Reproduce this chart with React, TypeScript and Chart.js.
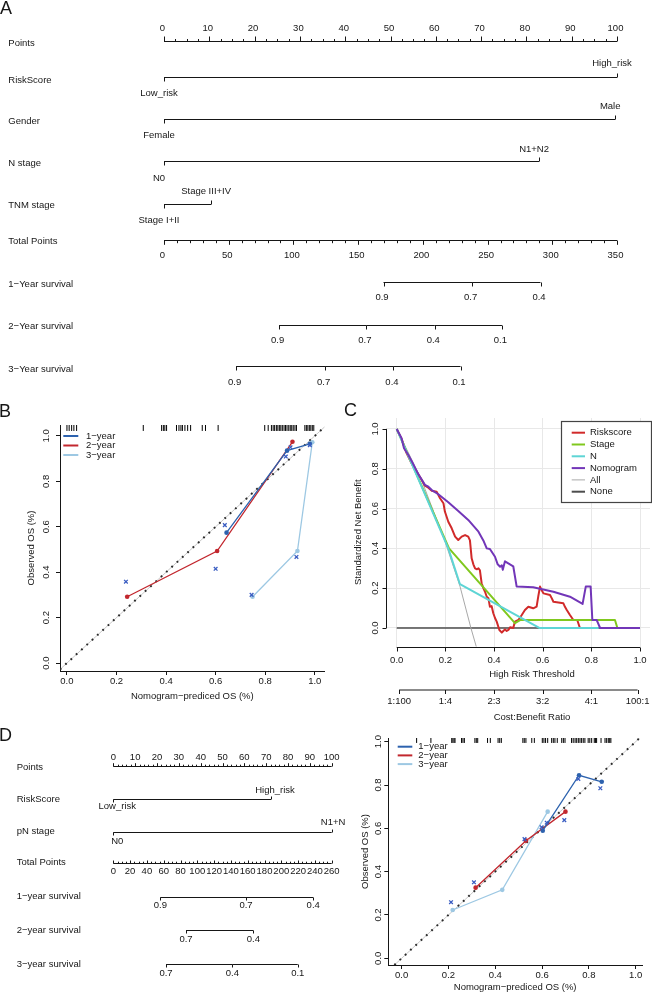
import React, { useEffect, useRef } from 'react';
import { Chart, registerables } from 'chart.js';

Chart.register(...registerables);

const FONT_FAMILY = '"Liberation Sans", Arial, Helvetica, sans-serif';
const FS = 9.5;
const INK = '#161616';
const M = '\u2212';

/* ================= Panel A : nomogram ================= */
const A_POINT_TICKS = [0, 10, 20, 30, 40, 50, 60, 70, 80, 90, 100];
const A_POINT_MINOR = 2.5;
const A_TOTAL_TICKS = [0, 50, 100, 150, 200, 250, 300, 350];
const A_TOTAL_MINOR = 10;
const A_VAR_NAMES = ['RiskScore', 'Gender', 'N stage', 'TNM stage'];
const A_VAR_LOW = ['Low_risk', 'Female', 'N0', 'Stage I+II'];
const A_VAR_HIGH = ['High_risk', 'Male', 'N1+N2', 'Stage III+IV'];
const A_VAR_HIGH_POINTS = [100, 99.6, 82.8, 10.4];
const A_SURV_NAMES = [`1${M}Year survival`, `2${M}Year survival`, `3${M}Year survival`];
const A_SURV1_LABELS = ['0.9', '0.7', '0.4'];
const A_SURV1_TOTAL = [169.6, 238.1, 290.9];
const A_SURV2_LABELS = ['0.9', '0.7', '0.4', '0.1'];
const A_SURV2_TOTAL = [88.9, 156.4, 209.2, 261.1];
const A_SURV3_LABELS = ['0.9', '0.7', '0.4', '0.1'];
const A_SURV3_TOTAL = [55.7, 124.5, 177.3, 229.1];

/* ================= Panel B : calibration ================= */
const B_RUG = [0.0, 0.009, 0.019, 0.028, 0.039, 0.308, 0.382, 0.389, 0.395, 0.402, 0.442, 0.452, 0.46, 0.466,
  0.476, 0.487, 0.499, 0.546, 0.559, 0.61, 0.798, 0.812, 0.825, 0.832, 0.838, 0.845, 0.851, 0.857, 0.863,
  0.869, 0.876, 0.882, 0.888, 0.895, 0.901, 0.907, 0.913, 0.92, 0.926, 0.96, 0.966, 0.972, 0.978, 0.984,
  0.99, 0.996];
const B_1Y_PRED = [0.644, 0.888, 0.98];
const B_1Y_OBS = [0.574, 0.935, 0.965];
const B_2Y_PRED = [0.243, 0.606, 0.91];
const B_2Y_OBS = [0.292, 0.493, 0.974];
const B_3Y_PRED = [0.749, 0.93, 0.99];
const B_3Y_OBS = [0.292, 0.493, 0.972];
const B_CORR_PRED = [0.238, 0.6, 0.637, 0.883, 0.902, 0.98, 0.745, 0.926];
const B_CORR_OBS = [0.358, 0.415, 0.607, 0.909, 0.95, 0.959, 0.3, 0.467];
const CAL_TICKS = [0, 0.2, 0.4, 0.6, 0.8, 1.0];
const CAL_LEGEND = [`1${M}year`, `2${M}year`, `3${M}year`];

/* ================= Panel C : decision curves ================= */
const C_RISK_T = [0, 0.02, 0.04, 0.06, 0.08, 0.1, 0.116, 0.13, 0.144, 0.164, 0.178, 0.192, 0.198, 0.212, 0.226, 0.24,
  0.253, 0.267, 0.281, 0.294, 0.301, 0.308, 0.315, 0.322, 0.33, 0.336, 0.342, 0.349, 0.356, 0.363, 0.37, 0.377,
  0.383, 0.39, 0.397, 0.404, 0.411, 0.422, 0.432, 0.438, 0.445, 0.452, 0.459, 0.466, 0.479, 0.486, 0.5, 0.514,
  0.527, 0.541, 0.561, 0.575, 0.582, 0.589, 0.596, 0.603, 0.63, 0.637, 0.644, 0.685, 0.692, 0.699, 0.712, 0.726,
  0.742, 0.753];
const C_RISK_NB = [1.0, 0.95, 0.88, 0.83, 0.79, 0.75, 0.715, 0.705, 0.69, 0.685, 0.652, 0.627, 0.585, 0.534, 0.501,
  0.459, 0.442, 0.459, 0.467, 0.459, 0.44, 0.35, 0.32, 0.3, 0.295, 0.3, 0.29, 0.225, 0.2, 0.182, 0.157, 0.149,
  0.107, 0.11, 0.074, 0.05, 0.032, -0.01, -0.023, -0.015, -0.007, -0.015, -0.01, 0.004, 0.0, 0.032, 0.04, 0.065,
  0.09, 0.107, 0.099, 0.107, 0.16, 0.208, 0.19, 0.174, 0.166, 0.15, 0.132, 0.124, 0.105, 0.09, 0.065, 0.04,
  0.04, 0.0];
const C_STAGE_T = [0, 0.215, 0.486, 0.507, 0.897, 0.907];
const C_STAGE_NB = [1.0, 0.4, 0.024, 0.04, 0.04, 0.0];
const C_N_T = [0, 0.212, 0.26, 0.586, 0.83];
const C_N_NB = [1.0, 0.4, 0.22, 0.0, 0.0];
const C_NOMO_T = [0, 0.02, 0.03, 0.048, 0.064, 0.089, 0.116, 0.13, 0.144, 0.171, 0.212, 0.253, 0.294, 0.336, 0.356,
  0.37, 0.383, 0.404, 0.415, 0.425, 0.432, 0.436, 0.445, 0.479, 0.493, 0.561, 0.644, 0.712, 0.764, 0.777, 0.797,
  0.804, 0.822, 0.836, 1.0];
const C_NOMO_NB = [1.0, 0.953, 0.903, 0.869, 0.833, 0.772, 0.719, 0.71, 0.693, 0.672, 0.632, 0.588, 0.543, 0.484,
  0.44, 0.4, 0.397, 0.358, 0.32, 0.308, 0.315, 0.292, 0.335, 0.31, 0.208, 0.205, 0.182, 0.157, 0.121, 0.208,
  0.208, 0.04, 0.04, 0.0, 0.0];
const C_ALL_T = [0, 0.1, 0.2, 0.26, 0.305, 0.345];
const C_ALL_NB = [1.0, 0.75, 0.43, 0.21, 0.0, -0.17];
const C_NONE_T = [0, 1];
const C_NONE_NB = [0, 0];
const C_AXIS_TICKS = [0, 0.2, 0.4, 0.6, 0.8, 1.0];
const C_CB_TICKS = [0.01, 0.2, 0.4, 0.6, 0.8, 0.99];
const C_CB_LABELS = ['1:100', '1:4', '2:3', '3:2', '4:1', '100:1'];
const C_LEGEND = ['Riskscore', 'Stage', 'N', 'Nomogram', 'All', 'None'];

/* ================= Panel D : nomogram + calibration ================= */
const D_POINT_TICKS = [0, 10, 20, 30, 40, 50, 60, 70, 80, 90, 100];
const D_POINT_MINOR = 2;
const D_TOTAL_TICKS = [0, 20, 40, 60, 80, 100, 120, 140, 160, 180, 200, 220, 240, 260];
const D_TOTAL_MINOR = 5;
const D_VAR_NAMES = ['RiskScore', 'pN stage'];
const D_VAR_LOW = ['Low_risk', 'N0'];
const D_VAR_HIGH = ['High_risk', 'N1+N2'];
const D_VAR_HIGH_POINTS = [72.2, 100];
const D_SURV_NAMES = [`1${M}year survival`, `2${M}year survival`, `3${M}year survival`];
const D_SURV1_LABELS = ['0.9', '0.7', '0.4'];
const D_SURV1_TOTAL = [56, 158, 238];
const D_SURV2_LABELS = ['0.7', '0.4'];
const D_SURV2_TOTAL = [86.6, 166.7];
const D_SURV3_LABELS = ['0.7', '0.4', '0.1'];
const D_SURV3_TOTAL = [62.8, 141.7, 219.6];

const D_RUG = [0.064, 0.125, 0.214, 0.219, 0.224, 0.228, 0.256, 0.262, 0.268, 0.313, 0.319, 0.325, 0.367, 0.379,
  0.412, 0.419, 0.426, 0.518, 0.524, 0.531, 0.556, 0.567, 0.601, 0.608, 0.615, 0.624, 0.641, 0.648, 0.655,
  0.665, 0.684, 0.691, 0.698, 0.726, 0.733, 0.741, 0.748, 0.755, 0.762, 0.769, 0.776, 0.783, 0.797, 0.804,
  0.812, 0.823, 0.828, 0.833, 0.852, 0.869, 0.876, 0.883, 0.889, 0.894];
const D_1Y_PRED = [0.603, 0.758, 0.855];
const D_1Y_OBS = [0.589, 0.845, 0.815];
const D_2Y_PRED = [0.316, 0.531, 0.7];
const D_2Y_OBS = [0.326, 0.543, 0.677];
const D_3Y_PRED = [0.218, 0.43, 0.624];
const D_3Y_OBS = [0.223, 0.316, 0.677];
const D_CORR_PRED = [0.755, 0.849, 0.598, 0.62, 0.695, 0.309, 0.211, 0.525];
const D_CORR_OBS = [0.828, 0.785, 0.605, 0.626, 0.638, 0.351, 0.259, 0.55];

/* ================= styles ================= */
const BLUE1 = '#2D62AE';
const RED2 = '#C2272E';
const LBLUE3 = '#9DC8E3';
const CROSS_BLUE = '#3A5DC2';
const C_COLORS: Record<string, string> = {
  Riskscore: '#D12A2A', Stage: '#80C81E', N: '#5ED5D5', Nomogram: '#7236B8', All: '#A8A8A8', None: '#4D4D4D',
};
const C_WIDTHS: Record<string, number> = { Riskscore: 2, Stage: 2, N: 2, Nomogram: 2, All: 1, None: 1.5 };

type Pt = { x: number; y: number };
const pts = (xs: number[], ys: number[]): Pt[] => xs.map((x, i) => ({ x, y: ys[i] }));
const font = (s = FS) => `${s}px ${FONT_FAMILY}`;

type Box = { left: number; top: number; width: number; height: number };

/* ---------- nomogram ---------- */
type NomoData = {
  pointTicks: number[]; pointMinor: number; totalTicks: number[]; totalMinor: number;
  varNames: string[]; varLow: string[]; varHigh: string[]; varHighPts: number[];
  survNames: string[]; survLabels: string[][]; survTotals: number[][];
};
type NomoLayout = {
  box: Box; x0: number; x1: number; labelX: number;
  pointsAxisY: number; pointsLabelY: number; pointsRowY: number; pointsDir: number; pMajor: number; pMinor: number;
  totalAxisY: number; totalLabelY: number; totalRowY: number; totalDir: number; tMajor: number; tMinor: number;
  varLineY: number[]; varRowY: number[]; varLowY: number[]; varHighY: number[];
  survLineY: number[]; survLabelY: number[]; survRowY: number[];
  endTick: number; catShift: number; numShift: number;
};

function nomogramConfig(d: NomoData, L: NomoLayout) {
  const lineDs = (data: Pt[], axis: string) => ({
    data, xAxisID: axis, yAxisID: 'y', showLine: true, borderColor: INK, borderWidth: 1,
    pointRadius: 0, clip: false,
  });
  const pMax = d.pointTicks[d.pointTicks.length - 1];
  const tMax = d.totalTicks[d.totalTicks.length - 1];
  const datasets: any[] = [];
  datasets.push(lineDs([{ x: d.pointTicks[0], y: L.pointsAxisY }, { x: pMax, y: L.pointsAxisY }], 'x'));
  d.varHighPts.forEach((hp, i) => datasets.push(lineDs([{ x: 0, y: L.varLineY[i] }, { x: hp, y: L.varLineY[i] }], 'x')));
  datasets.push(lineDs([{ x: d.totalTicks[0], y: L.totalAxisY }, { x: tMax, y: L.totalAxisY }], 'xt'));
  d.survTotals.forEach((arr, i) => datasets.push(lineDs(arr.map((v) => ({ x: v, y: L.survLineY[i] })), 'xt')));

  const plugin = {
    id: 'nomogramAxes',
    afterDatasetsDraw(chart: any) {
      const ctx: CanvasRenderingContext2D = chart.ctx;
      const sx = chart.scales.x, st = chart.scales.xt, sy = chart.scales.y;
      const X = (v: number) => sx.getPixelForValue(v);
      const XT = (v: number) => st.getPixelForValue(v);
      const Y = (v: number) => sy.getPixelForValue(v);
      const lx = L.labelX - L.box.left;
      ctx.save();
      ctx.font = font();
      ctx.fillStyle = INK;
      ctx.strokeStyle = INK;
      ctx.lineWidth = 1;
      ctx.textBaseline = 'middle';
      const text = (s: string, x: number, y: number, align: CanvasTextAlign = 'center') => {
        ctx.textAlign = align;
        ctx.fillText(s, x, y);
      };
      const tick = (x: number, y: number, len: number) => {
        const xx = Math.round(x) + 0.5;
        ctx.beginPath();
        ctx.moveTo(xx, y);
        ctx.lineTo(xx, y + len);
        ctx.stroke();
      };
      const isMajor = (arr: number[], v: number) => arr.some((t) => Math.abs(t - v) < 1e-9);

      // Points
      text('Points', lx, Y(L.pointsRowY), 'left');
      for (let k = 0; k * d.pointMinor <= pMax + 1e-9; k++) {
        const v = k * d.pointMinor;
        if (!isMajor(d.pointTicks, v)) tick(X(v), Y(L.pointsAxisY), L.pointsDir * L.pMinor);
      }
      d.pointTicks.forEach((v) => {
        tick(X(v), Y(L.pointsAxisY), L.pointsDir * L.pMajor);
        text(String(v), X(v) + L.numShift, Y(L.pointsLabelY));
      });
      // variables
      d.varNames.forEach((name, i) => {
        const yl = Y(L.varLineY[i]);
        text(name, lx, Y(L.varRowY[i]), 'left');
        tick(X(0), yl, L.endTick);
        tick(X(d.varHighPts[i]), yl, -L.endTick);
        text(d.varLow[i], X(0) + L.catShift, Y(L.varLowY[i]));
        text(d.varHigh[i], X(d.varHighPts[i]) + L.catShift, Y(L.varHighY[i]));
      });
      // Total points
      text('Total Points', lx, Y(L.totalRowY), 'left');
      for (let k = 0; k * d.totalMinor <= tMax + 1e-9; k++) {
        const v = k * d.totalMinor;
        if (!isMajor(d.totalTicks, v)) tick(XT(v), Y(L.totalAxisY), L.totalDir * L.tMinor);
      }
      d.totalTicks.forEach((v) => {
        tick(XT(v), Y(L.totalAxisY), L.totalDir * L.tMajor);
        text(String(v), XT(v) + L.numShift, Y(L.totalLabelY));
      });
      // survival
      d.survNames.forEach((name, i) => {
        text(name, lx, Y(L.survRowY[i]), 'left');
        d.survTotals[i].forEach((v, j) => {
          tick(XT(v), Y(L.survLineY[i]), L.endTick);
          text(d.survLabels[i][j], XT(v) + L.numShift, Y(L.survLabelY[i]));
        });
      });
      ctx.restore();
    },
  };

  return {
    type: 'scatter',
    data: { datasets },
    options: {
      responsive: false,
      animation: false,
      events: [],
      layout: { padding: { left: L.x0 - L.box.left, right: L.box.left + L.box.width - L.x1, top: 0, bottom: 0 } },
      plugins: { legend: { display: false }, tooltip: { enabled: false } },
      scales: {
        x: { type: 'linear', display: false, min: 0, max: pMax },
        xt: { type: 'linear', axis: 'x', display: false, min: 0, max: tMax },
        y: { type: 'linear', display: false, min: L.box.top, max: L.box.top + L.box.height, reverse: true },
      },
    },
    plugins: [plugin],
  };
}

/* ---------- calibration ---------- */
type CalibSpec = {
  series: { label: string; pred: number[]; obs: number[]; color: string }[];
  corrPred: number[]; corrObs: number[]; rug: number[]; rugY: number;
  xMin: number; xMax: number; yMin: number; yMax: number;
  pad: { left: number; right: number; top: number; bottom: number };
  yAxisW: number; xAxisH: number; xTickPad: number; yTickPad: number; xTitlePad: number; yTitlePad: number;
  legend: { x1: number; x2: number; tx: number; y0: number; dy: number };
};

function calibrationConfig(p: CalibSpec) {
  const lo = Math.max(p.xMin, p.yMin), hi = Math.min(p.xMax, p.yMax);
  const diag = [{ x: lo, y: lo }, { x: hi, y: hi }];
  const datasets: any[] = [
    {
      data: pts(p.corrPred, p.corrObs), showLine: false, pointStyle: 'crossRot', pointRadius: 2.6,
      pointBorderWidth: 1.3, pointBorderColor: CROSS_BLUE, pointBackgroundColor: CROSS_BLUE,
    },
    ...p.series.map((s) => ({
      data: pts(s.pred, s.obs), showLine: true, borderColor: s.color, borderWidth: 1.3, pointStyle: 'circle',
      pointRadius: 2.3, pointBorderWidth: 0, pointBackgroundColor: s.color, pointBorderColor: s.color,
    })),
    {
      data: p.rug.map((v) => ({ x: v, y: p.rugY })), showLine: false, pointStyle: 'line', pointRotation: 90,
      pointRadius: 3, pointBorderWidth: 1, pointBorderColor: '#000', pointBackgroundColor: '#000',
    },
    { data: diag, showLine: true, borderColor: '#2a2a2a', borderWidth: 2, borderDash: [1.8, 5.4], pointRadius: 0 },
    { data: diag, showLine: true, borderColor: '#c8c8c8', borderWidth: 1, pointRadius: 0 },
  ];
  const legendPlugin = {
    id: 'calLegend',
    afterDraw(chart: any) {
      const ctx: CanvasRenderingContext2D = chart.ctx;
      ctx.save();
      ctx.font = font();
      ctx.textBaseline = 'middle';
      ctx.textAlign = 'left';
      p.series.forEach((s, i) => {
        const y = p.legend.y0 + i * p.legend.dy;
        ctx.strokeStyle = s.color;
        ctx.lineWidth = 2;
        ctx.beginPath();
        ctx.moveTo(p.legend.x1, y);
        ctx.lineTo(p.legend.x2, y);
        ctx.stroke();
        ctx.fillStyle = INK;
        ctx.fillText(s.label, p.legend.tx, y);
      });
      ctx.restore();
    },
  };
  const tickFont = { family: FONT_FAMILY, size: FS };
  return {
    type: 'scatter',
    data: { datasets },
    options: {
      responsive: false,
      animation: false,
      events: [],
      layout: { padding: p.pad },
      plugins: { legend: { display: false }, tooltip: { enabled: false } },
      scales: {
        x: {
          type: 'linear', position: 'bottom', min: p.xMin, max: p.xMax,
          afterBuildTicks: (s: any) => { s.ticks = CAL_TICKS.map((v) => ({ value: v })); },
          ticks: {
            autoSkip: false, maxRotation: 0, color: INK, font: tickFont, padding: p.xTickPad,
            callback: (v: any) => Number(v).toFixed(1),
          },
          grid: { drawOnChartArea: false, drawTicks: true, tickLength: 4, color: INK, lineWidth: 1 },
          border: { display: true, color: INK, width: 1 },
          title: {
            display: true, text: `Nomogram${M}prediced OS (%)`, color: INK, font: tickFont,
            padding: { top: 0, bottom: p.xTitlePad },
          },
          afterFit: (s: any) => { s.height = p.xAxisH; },
        },
        y: {
          type: 'linear', position: 'left', min: p.yMin, max: p.yMax,
          afterBuildTicks: (s: any) => { s.ticks = CAL_TICKS.map((v) => ({ value: v })); },
          ticks: {
            autoSkip: false, minRotation: 90, maxRotation: 90, crossAlign: 'center', color: INK, font: tickFont,
            padding: p.yTickPad, callback: (v: any) => Number(v).toFixed(1),
          },
          grid: { drawOnChartArea: false, drawTicks: true, tickLength: 4, color: INK, lineWidth: 1 },
          border: { display: true, color: INK, width: 1 },
          title: {
            display: true, text: 'Observed OS (%)', color: INK, font: tickFont,
            padding: { top: p.yTitlePad, bottom: 0 },
          },
          afterFit: (s: any) => { s.width = p.yAxisW; },
        },
      },
    },
    plugins: [legendPlugin],
  };
}

/* ---------- decision curve ---------- */
const C_TITLE_CENTER = 0.556;

function dcaConfig() {
  const series: Record<string, Pt[]> = {
    Riskscore: pts(C_RISK_T, C_RISK_NB),
    Stage: pts(C_STAGE_T, C_STAGE_NB),
    N: pts(C_N_T, C_N_NB),
    Nomogram: pts(C_NOMO_T, C_NOMO_NB),
    All: pts(C_ALL_T, C_ALL_NB),
    None: pts(C_NONE_T, C_NONE_NB),
  };
  const topFirst = ['Nomogram', 'N', 'Stage', 'Riskscore', 'All', 'None'];
  const datasets = topFirst.map((k) => ({
    label: k, data: series[k], showLine: true, borderColor: C_COLORS[k], borderWidth: C_WIDTHS[k],
    pointRadius: 0, borderJoinStyle: 'round',
  }));
  const axesPlugin = {
    id: 'dcaAxes',
    afterDraw(chart: any) {
      const ctx: CanvasRenderingContext2D = chart.ctx;
      const ca = chart.chartArea;
      const sx = chart.scales.x, sy = chart.scales.y;
      const X = (v: number) => sx.getPixelForValue(v);
      const Y = (v: number) => sy.getPixelForValue(v);
      const line = (x1: number, y1: number, x2: number, y2: number) => {
        ctx.beginPath(); ctx.moveTo(x1, y1); ctx.lineTo(x2, y2); ctx.stroke();
      };
      ctx.save();
      ctx.strokeStyle = INK; ctx.fillStyle = INK; ctx.lineWidth = 1;
      ctx.font = font();
      ctx.textBaseline = 'middle';
      ctx.textAlign = 'center';
      // y axis
      const axX = Math.round(ca.left) + 0.5;
      line(axX, Y(0), axX, Y(1));
      C_AXIS_TICKS.forEach((v) => {
        const yy = Math.round(Y(v)) + 0.5;
        line(axX - 4, yy, axX, yy);
        ctx.save(); ctx.translate(axX - 11, Y(v)); ctx.rotate(-Math.PI / 2);
        ctx.fillText(v.toFixed(1), 0, 0); ctx.restore();
      });
      ctx.save(); ctx.translate(axX - 28.3, (ca.top + ca.bottom) / 2); ctx.rotate(-Math.PI / 2);
      ctx.fillText('Standardized Net Benefit', 0, 0); ctx.restore();
      // x axis
      const axY = Math.round(ca.bottom) + 0.5;
      line(X(0), axY, X(1), axY);
      C_AXIS_TICKS.forEach((v) => {
        const xx = Math.round(X(v)) + 0.5;
        line(xx, axY, xx, axY + 4);
        ctx.fillText(v.toFixed(1), X(v), axY + 13.3);
      });
      ctx.fillText('High Risk Threshold', X(C_TITLE_CENTER), axY + 26.8);
      // cost:benefit axis
      const cbY = axY + 42.5;
      line(X(C_CB_TICKS[0]), cbY, X(C_CB_TICKS[C_CB_TICKS.length - 1]), cbY);
      C_CB_TICKS.forEach((v, i) => {
        const xx = Math.round(X(v)) + 0.5;
        line(xx, cbY, xx, cbY + 4);
        ctx.fillText(C_CB_LABELS[i], X(v), cbY + 11);
      });
      ctx.fillText('Cost:Benefit Ratio', X(C_TITLE_CENTER), cbY + 27.7);
      // legend
      const bx = 231.5, by = 11.5, bw = 90, bh = 81;
      ctx.fillStyle = '#fff';
      ctx.fillRect(bx, by, bw, bh);
      ctx.strokeStyle = '#444';
      ctx.lineWidth = 1.2;
      ctx.strokeRect(bx, by, bw, bh);
      ctx.textAlign = 'left';
      C_LEGEND.forEach((k, i) => {
        const y = 22.7 + i * 11.8;
        ctx.strokeStyle = C_COLORS[k];
        ctx.lineWidth = k === 'All' ? 1 : 2;
        line(241.7, y, 255, y);
        ctx.fillStyle = INK;
        ctx.fillText(k, 260, y);
      });
      ctx.restore();
    },
  };
  const hiddenAxis = (min: number, max: number, horizontal: boolean) => ({
    type: 'linear', min, max, position: horizontal ? 'bottom' : 'left',
    ticks: { display: false, stepSize: 0.2, includeBounds: false },
    grid: { color: '#E8E8E8', lineWidth: 1, drawTicks: false },
    border: { display: false },
    afterFit: (s: any) => { if (horizontal) s.height = 0; else s.width = 0; },
  });
  return {
    type: 'scatter',
    data: { datasets },
    options: {
      responsive: false,
      animation: false,
      events: [],
      layout: { padding: { left: 56, right: 2, top: 8, bottom: 83.5 } },
      plugins: { legend: { display: false }, tooltip: { enabled: false } },
      scales: { x: hiddenAxis(-0.044, 1.041, true), y: hiddenAxis(-0.093, 1.055, false) },
    },
    plugins: [axesPlugin],
  };
}

/* ================= layouts ================= */
const A_LAYOUT: NomoLayout = {
  box: { left: 0, top: 0, width: 652, height: 392 }, x0: 164, x1: 617, labelX: 8.3,
  pointsAxisY: 41.5, pointsLabelY: 28.3, pointsRowY: 43.3, pointsDir: -1, pMajor: 5, pMinor: 2.5,
  totalAxisY: 240.5, totalLabelY: 255.7, totalRowY: 241.7, totalDir: 1, tMajor: 4.3, tMinor: 2.7,
  varLineY: [77.5, 119.5, 161.5, 204.5], varRowY: [80, 121.7, 163.3, 205],
  varLowY: [93.3, 135.7, 178.3, 220.7], varHighY: [63.3, 106, 149, 191.7],
  survLineY: [282.5, 325.5, 366.5], survLabelY: [297.7, 340.7, 382], survRowY: [284.3, 326.7, 369],
  endTick: 4, catShift: -5, numShift: -1.5,
};
const D_LAYOUT: NomoLayout = {
  box: { left: 0, top: 745, width: 345, height: 247 }, x0: 113.3, x1: 331.7, labelX: 16.7,
  pointsAxisY: 766.5, pointsLabelY: 757.7, pointsRowY: 767.7, pointsDir: -1, pMajor: 3.3, pMinor: 1.8,
  totalAxisY: 863.5, totalLabelY: 871.5, totalRowY: 862.7, totalDir: -1, tMajor: 3, tMinor: 1.8,
  varLineY: [799.5, 832.5], varRowY: [799, 831.7], varLowY: [806.7, 841.7], varHighY: [790.7, 822.3],
  survLineY: [897.5, 930.5, 964.5], survLabelY: [905, 939.3, 973.3], survRowY: [896.7, 930.7, 964],
  endTick: 3, catShift: 4, numShift: 0,
};

const A_DATA: NomoData = {
  pointTicks: A_POINT_TICKS, pointMinor: A_POINT_MINOR, totalTicks: A_TOTAL_TICKS, totalMinor: A_TOTAL_MINOR,
  varNames: A_VAR_NAMES, varLow: A_VAR_LOW, varHigh: A_VAR_HIGH, varHighPts: A_VAR_HIGH_POINTS,
  survNames: A_SURV_NAMES, survLabels: [A_SURV1_LABELS, A_SURV2_LABELS, A_SURV3_LABELS],
  survTotals: [A_SURV1_TOTAL, A_SURV2_TOTAL, A_SURV3_TOTAL],
};
const D_DATA: NomoData = {
  pointTicks: D_POINT_TICKS, pointMinor: D_POINT_MINOR, totalTicks: D_TOTAL_TICKS, totalMinor: D_TOTAL_MINOR,
  varNames: D_VAR_NAMES, varLow: D_VAR_LOW, varHigh: D_VAR_HIGH, varHighPts: D_VAR_HIGH_POINTS,
  survNames: D_SURV_NAMES, survLabels: [D_SURV1_LABELS, D_SURV2_LABELS, D_SURV3_LABELS],
  survTotals: [D_SURV1_TOTAL, D_SURV2_TOTAL, D_SURV3_TOTAL],
};

const B_BOX: Box = { left: 0, top: 410, width: 330, height: 300 };
const B_SPEC: CalibSpec = {
  series: [
    { label: CAL_LEGEND[0], pred: B_1Y_PRED, obs: B_1Y_OBS, color: BLUE1 },
    { label: CAL_LEGEND[1], pred: B_2Y_PRED, obs: B_2Y_OBS, color: RED2 },
    { label: CAL_LEGEND[2], pred: B_3Y_PRED, obs: B_3Y_OBS, color: LBLUE3 },
  ],
  corrPred: B_CORR_PRED, corrObs: B_CORR_OBS, rug: B_RUG, rugY: 1.035,
  xMin: -0.028, xMax: 1.04, yMin: -0.035, yMax: 1.048,
  pad: { left: 0, right: 5, top: 15, bottom: 0 },
  yAxisW: 60, xAxisH: 39, xTickPad: 0.3, yTickPad: 2.7, xTitlePad: 7.6, yTitlePad: 25.3,
  legend: { x1: 63.3, x2: 78.3, tx: 86, y0: 26, dy: 9.5 },
};
const C_BOX: Box = { left: 330, top: 410, width: 322, height: 320 };
const D_CAL_BOX: Box = { left: 330, top: 730, width: 322, height: 262 };
const D_SPEC: CalibSpec = {
  series: [
    { label: CAL_LEGEND[0], pred: D_1Y_PRED, obs: D_1Y_OBS, color: BLUE1 },
    { label: CAL_LEGEND[1], pred: D_2Y_PRED, obs: D_2Y_OBS, color: RED2 },
    { label: CAL_LEGEND[2], pred: D_3Y_PRED, obs: D_3Y_OBS, color: LBLUE3 },
  ],
  corrPred: D_CORR_PRED, corrObs: D_CORR_OBS, rug: D_RUG, rugY: 1.008,
  xMin: -0.057, xMax: 1.027, yMin: -0.031, yMax: 1.017,
  pad: { left: 0, right: 10, top: 8, bottom: 0 },
  yAxisW: 58.3, xAxisH: 27, xTickPad: 1, yTickPad: -0.8, xTitlePad: -1, yTitlePad: 29.3,
  legend: { x1: 67.7, x2: 82.3, tx: 88.3, y0: 16.7, dy: 8.7 },
};

/* ================= components ================= */
function ChartBox({ box, build }: { box: Box; build: () => any }) {
  const ref = useRef<HTMLCanvasElement>(null);
  useEffect(() => {
    if (!ref.current) return undefined;
    const chart = new Chart(ref.current, build());
    return () => chart.destroy();
  }, []);
  return (
    <canvas
      ref={ref}
      width={box.width}
      height={box.height}
      style={{ position: 'absolute', left: box.left, top: box.top, width: box.width, height: box.height }}
    />
  );
}

const letter = (left: number, top: number): React.CSSProperties => ({
  position: 'absolute', left, top, fontSize: 18, lineHeight: '18px', fontFamily: FONT_FAMILY, color: INK,
});

export default function App() {
  return (
    <div
      style={{
        position: 'absolute', left: 0, top: 0, width: 652, height: 992, overflow: 'hidden', background: '#fff',
      }}
    >
      <ChartBox box={A_LAYOUT.box} build={() => nomogramConfig(A_DATA, A_LAYOUT)} />
      <ChartBox box={B_BOX} build={() => calibrationConfig(B_SPEC)} />
      <ChartBox box={C_BOX} build={() => dcaConfig()} />
      <ChartBox box={D_LAYOUT.box} build={() => nomogramConfig(D_DATA, D_LAYOUT)} />
      <ChartBox box={D_CAL_BOX} build={() => calibrationConfig(D_SPEC)} />
      <div style={letter(0, -0.6)}>A</div>
      <div style={letter(-1, 402)}>B</div>
      <div style={letter(344, 400.7)}>C</div>
      <div style={letter(-1, 725.7)}>D</div>
    </div>
  );
}
